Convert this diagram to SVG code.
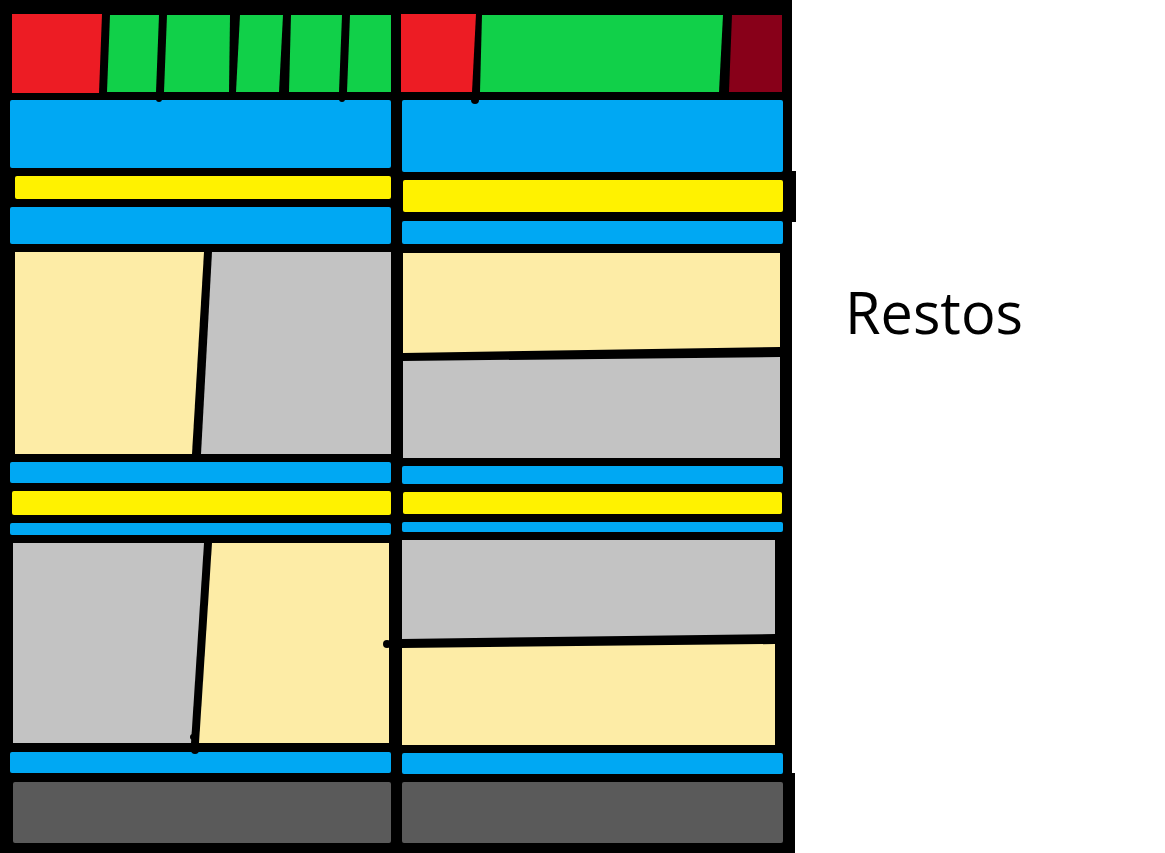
<svg xmlns="http://www.w3.org/2000/svg" width="1165" height="853" viewBox="0 0 1165 853">
<style>
.red{fill:#ed1c24}.green{fill:#11d049}.dred{fill:#880019}.blue{fill:#00a8f3}.yellow{fill:#fff200}.cream{fill:#fdeca6}.grey{fill:#c3c3c3}.dgrey{fill:#5a5a5a}.ink{fill:#000}
text{font-family:"Open Sans","Noto Sans","DejaVu Sans",sans-serif;fill:#000}
</style>
<rect width="1165" height="853" fill="#fff"/>
<g id="frame">
<path class="ink" d="M0 0H792V171H796V222H792V773H795V853H0Z"/>
</g>
<g id="left-column">
<polygon class="red" points="12,14 102,14 99,93 12,93"/>
<polygon class="green" points="110,15 159,15 156,92 107,92"/>
<polygon class="green" points="167,15 230,15 229,92 164,92"/>
<polygon class="green" points="240,15 283,15 279,92 236,92"/>
<polygon class="green" points="291,15 342,15 339,92 289,92"/>
<polygon class="green" points="350,15 391,15 391,92 347,92"/>
<rect class="blue" x="10" y="100" width="381" height="68" rx="2"/>
<rect class="yellow" x="15" y="176" width="376" height="23" rx="2"/>
<rect class="blue" x="10" y="207" width="381" height="37" rx="2"/>
<polygon class="cream" points="15,252 204,252 192,454 15,454"/>
<polygon class="grey" points="212,252 391,252 391,454 201,454"/>
<rect class="blue" x="10" y="462" width="381" height="21" rx="2"/>
<rect class="yellow" x="12" y="491" width="379" height="24" rx="2"/>
<rect class="blue" x="10" y="523" width="381" height="12" rx="2"/>
<polygon class="grey" points="13,543 204,543 191,743 13,743"/>
<polygon class="cream" points="212,543 389,543 389,743 199,743"/>
<rect class="blue" x="10" y="752" width="381" height="21" rx="2"/>
<rect class="dgrey" x="13" y="782" width="378" height="61" rx="2"/>
</g>
<g id="right-column">
<polygon class="red" points="401,14 476,14 472,92 401,92"/>
<polygon class="green" points="482,15 723,15 719,92 480,92"/>
<polygon class="dred" points="732,15 782,15 782,92 729,92"/>
<rect class="blue" x="402" y="100" width="381" height="72" rx="2"/>
<rect class="yellow" x="403" y="180" width="380" height="32" rx="2"/>
<rect class="blue" x="402" y="221" width="381" height="23" rx="2"/>
<polygon class="cream" points="403,253 780,253 780,347 403,353"/>
<polygon class="grey" points="403,361 780,357 780,458 403,458"/>
<rect class="blue" x="402" y="466" width="381" height="18" rx="2"/>
<rect class="yellow" x="403" y="492" width="379" height="22" rx="2"/>
<rect class="blue" x="402" y="522" width="381" height="10" rx="2"/>
<polygon class="grey" points="402,540 775,540 775,634 402,639"/>
<polygon class="cream" points="402,648 775,644 775,745 402,745"/>
<rect class="blue" x="402" y="753" width="381" height="21" rx="2"/>
<rect class="dgrey" x="402" y="782" width="381" height="61" rx="2"/>
</g>
<g id="connectors">
<circle class="ink" cx="159" cy="99" r="3"/>
<circle class="ink" cx="342" cy="99" r="3"/>
<circle class="ink" cx="475" cy="100" r="4"/>
<circle class="ink" cx="387" cy="644" r="4"/>
<circle class="ink" cx="195" cy="750" r="4"/>
<circle class="ink" cx="193" cy="737" r="3"/>
</g>
<g id="label">
<text x="845" y="334" font-size="59" textLength="178" lengthAdjust="spacingAndGlyphs">Restos</text>
</g>
</svg>
